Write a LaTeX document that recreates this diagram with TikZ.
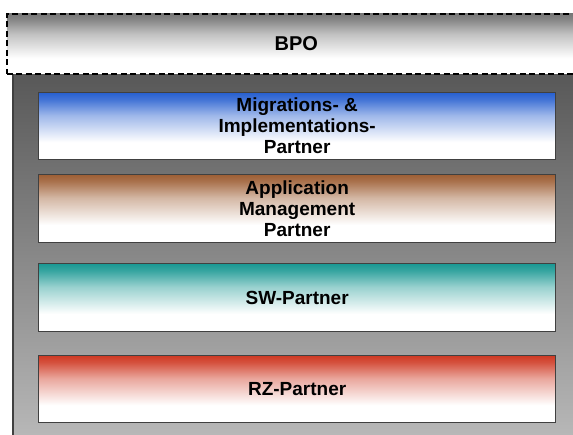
\documentclass[tikz,border=0pt]{standalone}
\usepackage{fontspec}
\setmainfont{Liberation Sans}
\definecolor{bgtop}{HTML}{585858}
\definecolor{bgmid}{HTML}{9C9C9C}
\definecolor{bgbot}{HTML}{BABABA}
\definecolor{bgline}{HTML}{404040}
\definecolor{boxline}{HTML}{404040}
\definecolor{tblue}{HTML}{2860D0}
\definecolor{tbrown}{HTML}{9E5F35}
\definecolor{tteal}{HTML}{1A9893}
\definecolor{tred}{HTML}{CF3A24}
\definecolor{tgray}{HTML}{777777}
\colorlet{boxtop}{gray}
\pgfdeclareverticalshading[boxtop]{fadeshade}{100bp}{color(0bp)=(white); color(38bp)=(white); color(58bp)=(boxtop!45!white); color(70bp)=(boxtop!88!white); color(75bp)=(boxtop); color(100bp)=(boxtop)}
\tikzset{
  fadefill/.style={/utils/exec={\colorlet{boxtop}{#1}}, shade, shading=fadeshade},
  tier/.style={draw=boxline, line width=1.3pt, minimum width=517pt, anchor=north west,
    inner sep=0pt, align=center, text=black, font=\bfseries\fontsize{19}{21}\selectfont},
  bgrect/.style={draw=bgline, line width=1.5pt, anchor=north west, inner sep=0pt,
    top color=bgtop, middle color=bgmid, bottom color=bgbot},
  dashbox/.style={draw=black, line width=1.6pt, dash pattern=on 6pt off 3.5pt, anchor=north west,
    inner sep=0pt, text=black, font=\bfseries\fontsize{20}{22}\selectfont}
}
\begin{document}
\begin{tikzpicture}[x=1pt,y=-1pt]
\useasboundingbox (0,0) rectangle (573,435);
\clip (0,0) rectangle (573,435);
\node[bgrect, minimum width=590pt, minimum height=372pt] (bg) at (12,73) {};
\node[dashbox, fadefill=tgray, minimum width=579pt, minimum height=60pt] (bpo) at (6,13) {BPO};
\node[tier, fadefill=tblue, minimum height=67pt] (mig) at (38,92) {Migrations- \&\\Implementations-\\Partner};
\node[tier, fadefill=tbrown, minimum height=68pt] (app) at (38,174) {Application\\Management\\Partner};
\node[tier, fadefill=tteal, minimum height=68pt] (sw) at (38,263) {SW-Partner};
\node[tier, fadefill=tred, minimum height=67pt] (rz) at (38,355) {RZ-Partner};
\end{tikzpicture}
\end{document}
